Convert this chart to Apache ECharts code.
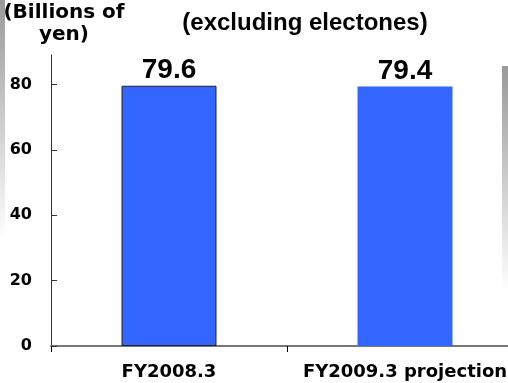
<!DOCTYPE html>
<html>
<head>
<meta charset="utf-8">
<script src="https://cdn.jsdelivr.net/npm/echarts@6/dist/echarts.min.js"></script>
<style>
  html, body { margin: 0; padding: 0; background: #ffffff; }
  #chart { width: 508px; height: 383px; }
</style>
</head>
<body>
<div id="chart"></div>
<script>
// Sales figures, billions of yen
const categories = ['FY2008.3', 'FY2009.3 projection'];
const sales = [79.6, 79.4];
const yTicks = [0, 20, 40, 60, 80];

const chart = echarts.init(document.getElementById('chart'), null, { renderer: 'canvas' });

const barColor = '#3366FF';
const seriesData = sales.map((v, i) => (
  i === 0
    ? { value: v, itemStyle: { borderColor: '#222222', borderWidth: 1 } }
    : { value: v }
));

const fade = () => new echarts.graphic.LinearGradient(0, 0, 0, 1, [
  { offset: 0, color: '#999999' }, { offset: 1, color: '#ffffff' }
]);

const option = {
  backgroundColor: '#ffffff',
  animation: false,
  title: [
    {
      text: '(excluding electones)',
      left: 305,
      top: 11,
      padding: 0,
      textAlign: 'center',
      textStyle: { fontFamily: 'Liberation Sans', fontWeight: 'bold', fontSize: 24, color: '#000' }
    },
    {
      text: '(Billions of\nyen)',
      left: 64,
      top: 2,
      padding: 0,
      textAlign: 'center',
      textStyle: { fontFamily: 'DejaVu Sans', fontWeight: 'bold', fontSize: 20, lineHeight: 22, color: '#000' }
    }
  ],
  graphic: [
    { type: 'rect', left: 0, top: 0, z: -1, shape: { width: 5, height: 240 }, style: { fill: fade() } },
    { type: 'rect', left: 502, top: 66, z: -1, shape: { width: 6, height: 225 }, style: { fill: fade() } }
  ],
  grid: { left: 51, top: 55, width: 472, bottom: 37, containLabel: false, outerBoundsMode: 'none' },
  xAxis: {
    type: 'category',
    data: categories,
    boundaryGap: true,
    axisLine: { show: true, lineStyle: { color: '#777777', width: 2 } },
    axisTick: { show: true, interval: 0, length: 6, lineStyle: { color: '#000000', width: 1 } },
    axisLabel: {
      interval: 0, margin: 17,
      fontFamily: 'DejaVu Sans', fontWeight: 'bold', fontSize: 18, color: '#000'
    },
    splitLine: { show: false }
  },
  yAxis: {
    type: 'value',
    min: 0,
    max: 89,
    axisLine: { show: true, lineStyle: { color: '#333333', width: 1 } },
    axisTick: { show: true, inside: true, length: 6, customValues: yTicks, lineStyle: { color: '#333333' } },
    axisLabel: {
      customValues: yTicks, margin: 19,
      fontFamily: 'DejaVu Sans', fontWeight: 'bold', fontSize: 16, color: '#000'
    },
    splitLine: { show: false }
  },
  series: [
    {
      type: 'bar',
      data: seriesData,
      barWidth: 95,
      itemStyle: { color: barColor },
      label: {
        show: true,
        position: 'top',
        distance: 1,
        formatter: p => p.value.toFixed(1),
        fontFamily: 'Liberation Sans', fontWeight: 'bold', fontSize: 28, color: '#000'
      }
    }
  ]
};

chart.setOption(option);
</script>
</body>
</html>
